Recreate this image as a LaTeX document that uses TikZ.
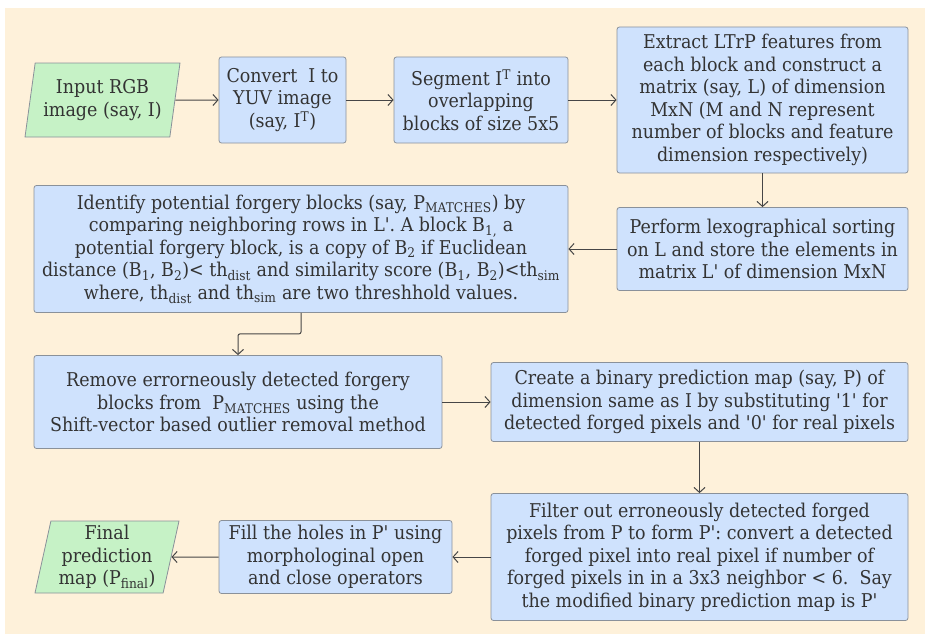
\documentclass[tikz,border=0pt]{standalone}
\usepackage{fontspec}
\setmainfont{DejaVu Serif}[FakeStretch=0.92,Ligatures=TeXOff]
\usetikzlibrary{arrows.meta, shapes.geometric, positioning}
\definecolor{bgcream}{HTML}{FEF1DA}
\definecolor{boxblue}{HTML}{CFE2FD}
\definecolor{boxgreen}{HTML}{C6F2C6}
\definecolor{boxline}{HTML}{8A919A}
\definecolor{inkgray}{HTML}{333333}
\definecolor{arrowgray}{HTML}{464646}
\tikzset{basic/.style={draw=boxline,line width=0.8pt,text=inkgray,align=center,inner sep=0pt,font=\fontsize{19}{22.5}\selectfont}}
\tikzset{process/.style={basic,fill=boxblue,rectangle,rounded corners=2.5pt}}
\tikzset{io/.style={basic,fill=boxgreen,trapezium,trapezium left angle=76,trapezium right angle=104,trapezium stretches body}}

\begin{document}
\begin{tikzpicture}[
x = 1pt, y = -1pt, % pixel-like units, y downwards
> = {Straight Barb[length=5pt,width=11pt]}, % arrow head style
line width = 1pt,
draw = arrowgray
]

\useasboundingbox (0,0) rectangle (925,634);
\fill[bgcream] (5,8) rectangle (925,634);

% top row
\node[io, minimum width=155pt, minimum height=74pt] (inp) at (102.5,100) {Input RGB\\image (say, I)};
\node[process, minimum width=127pt, minimum height=86pt] (conv) at (282.5,100) {Convert\ \ I to\\YUV image\\(say, I\textsuperscript{T})};
\node[process, minimum width=174pt, minimum height=86pt] (seg) at (481,100) {Segment I\textsuperscript{T} into\\overlapping\\blocks of size 5x5};
\node[process, minimum width=291pt, minimum height=146pt] (ext) at (762.5,100) {Extract LTrP features from\\each block and construct a\\matrix (say, L) of dimension\\MxN (M and N represent\\number of blocks and feature\\dimension respectively)};

% second row
\node[process, minimum width=291pt, minimum height=83pt] (perf) at (762.5,249) {Perform lexographical sorting\\on L and store the elements in\\matrix L' of dimension MxN};
\node[process, minimum width=534pt, minimum height=127pt] (iden) at (301,249) {Identify potential forgery blocks (say, P\textsubscript{MATCHES}) by\\comparing neighboring rows in L'. A block B\textsubscript{1,} a\\potential forgery block, is a copy of B\textsubscript{2} if Euclidean\\distance (B\textsubscript{1}, B\textsubscript{2})< th\textsubscript{dist} and similarity score (B\textsubscript{1}, B\textsubscript{2})<th\textsubscript{sim}\\where, th\textsubscript{dist} and th\textsubscript{sim} are two threshhold values.};

% third row
\node[process, minimum width=408pt, minimum height=93pt] (rem) at (238,402) {Remove errorneously detected forgery\\blocks from\ \ P\textsubscript{MATCHES} using the\\Shift-vector based outlier removal method};
\node[process, minimum width=417pt, minimum height=79pt] (crea) at (699.5,402) {Create a binary prediction map (say, P) of\\dimension same as I by substituting '1' for\\detected forged pixels and '0' for real pixels};

% bottom row
\node[process, minimum width=417pt, minimum height=127pt] (filt) at (699.5,557) {Filter out erroneously detected forged\\pixels from P to form P': convert a detected\\forged pixel into real pixel if number of\\forged pixels in in a 3x3 neighbor < 6.\ \ Say\\the modified binary prediction map is P'};
\node[process, minimum width=233pt, minimum height=73pt] (fill) at (335.5,557) {Fill the holes in P' using\\morphologinal open\\and close operators};
\node[io, minimum width=144pt, minimum height=72pt] (fin) at (107,557) {Final\\prediction\\map (P\textsubscript{final})};

\path[->] (inp) edge (conv);
\path[->] (conv) edge (seg);
\path[->] (seg) edge (ext);
\path[->] (ext) edge (perf);
\path[->] (perf) edge (iden);
\draw[->, rounded corners=2pt] (iden.south) -- ++(0,21) -| (rem.north);
\path[->] (rem) edge (crea);
\path[->] (crea) edge (filt);
\path[->] (filt) edge (fill);
\path[->] (fill) edge (fin);
\end{tikzpicture}
\end{document}
